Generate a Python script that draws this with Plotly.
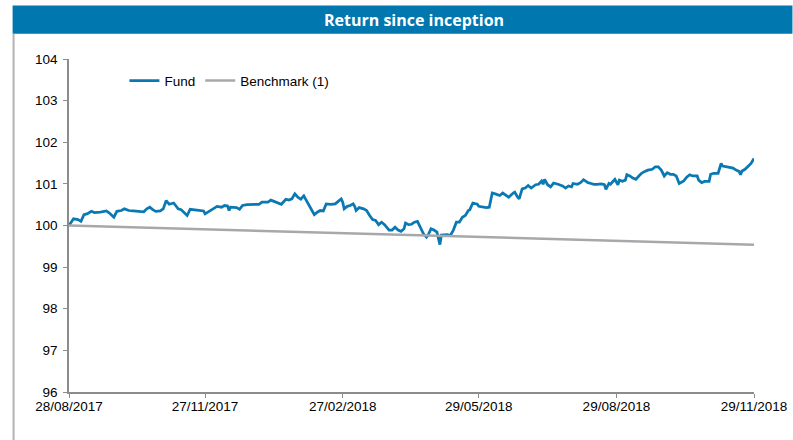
import pandas as pd
import plotly.graph_objects as go

START = "2017-08-28"

# Fund: days since inception and index level
fund_days = [0, 3, 6, 8, 10, 12, 15, 17, 21, 23, 25, 27, 30, 32, 35, 37, 40, 43, 46, 50,
             52, 54, 56, 58, 61, 63, 65, 67, 70, 73, 75, 77, 79, 81, 84, 87, 90, 91, 93,
             95, 97, 99, 102, 104, 106, 107, 108, 112, 114, 116, 119, 123, 125, 127, 129,
             133, 135, 138, 141, 142, 145, 147, 149, 151, 153, 155, 157, 161, 164, 166,
             168, 170, 172, 175, 178, 180, 182, 183, 184, 186, 188, 190, 191, 192, 194,
             197, 199, 201, 203, 205, 207, 209, 211, 214, 216, 218, 220, 222, 224, 225,
             227, 229, 231, 233, 235, 237, 239, 240, 242, 244, 246, 248, 249, 251, 253,
             255, 257, 259, 261, 263, 265, 267, 268, 270, 273, 274, 277, 279, 281, 283,
             285, 288, 290, 292, 294, 297, 298, 300, 301, 303, 305, 307, 309, 312, 314,
             316, 317, 318, 320, 322, 324, 327, 330, 332, 334, 336, 337, 340, 342, 344,
             347, 349, 351, 353, 356, 358, 359, 361, 362, 364, 365, 367, 368, 370, 372,
             373, 375, 377, 379, 381, 383, 385, 387, 390, 392, 394, 396, 398, 400, 402,
             404, 406, 408, 411, 413, 415, 417, 420, 421, 423, 425, 428, 429, 431, 434,
             436, 437, 440, 442, 444, 446, 448, 449, 450, 452, 454, 456, 458]
fund_values = [100.00, 100.16, 100.14, 100.10, 100.26, 100.28, 100.34, 100.31, 100.32, 100.33,
               100.35, 100.30, 100.20, 100.34, 100.36, 100.40, 100.36, 100.35, 100.34, 100.33,
               100.40, 100.44, 100.38, 100.34, 100.35, 100.40, 100.60, 100.51, 100.54, 100.40,
               100.38, 100.30, 100.24, 100.39, 100.38, 100.36, 100.35, 100.28, 100.32,
               100.36, 100.40, 100.46, 100.44, 100.48, 100.47, 100.36, 100.44, 100.43, 100.39,
               100.48, 100.50, 100.51, 100.52, 100.51, 100.56, 100.56, 100.61, 100.57, 100.54,
               100.51, 100.63, 100.61, 100.64, 100.76, 100.68, 100.63, 100.71, 100.44, 100.26,
               100.32, 100.36, 100.35, 100.52, 100.51, 100.52, 100.58, 100.64, 100.56, 100.40,
               100.46, 100.48, 100.52, 100.46, 100.36, 100.43, 100.40, 100.36, 100.24, 100.14,
               100.12, 100.02, 100.08, 100.02, 99.89, 99.89, 99.96, 99.89, 99.86, 99.92, 100.06,
               100.02, 100.03, 100.08, 100.10, 99.96, 99.80, 99.72, 99.76, 99.92, 99.89, 99.84,
               99.54, 99.77, 99.78, 99.78, 99.76, 99.89, 100.08, 100.08, 100.20, 100.24, 100.36,
               100.38, 100.54, 100.51, 100.46, 100.44, 100.43, 100.44, 100.78, 100.76, 100.72,
               100.78, 100.74, 100.68, 100.78, 100.80, 100.68, 100.64, 100.88, 100.90, 100.96,
               100.90, 100.98, 100.99, 101.07, 100.99, 101.11, 100.98, 100.93, 101.02, 100.99,
               100.95, 100.90, 100.95, 100.93, 101.01, 100.99, 101.03, 101.10, 101.03, 101.01,
               100.99, 100.99, 101.00, 100.98, 100.87, 101.01, 100.99, 101.07, 101.11, 100.98,
               101.09, 101.06, 101.09, 101.22, 101.19, 101.14, 101.11, 101.19, 101.26, 101.30,
               101.33, 101.35, 101.41, 101.41, 101.33, 101.19, 101.27, 101.23, 101.23, 101.19,
               101.01, 101.07, 101.16, 101.22, 101.19, 101.19, 101.09, 101.03, 101.06, 101.06,
               101.23, 101.25, 101.25, 101.49, 101.43, 101.41, 101.39, 101.38, 101.33, 101.30,
               101.22, 101.31, 101.35, 101.41, 101.49, 101.61]

# Benchmark (1), read at the tick dates
bench_dates = ["2017-08-28", "2017-11-27", "2018-02-27", "2018-05-29", "2018-08-29", "2018-11-29"]
bench_values = [100.00, 99.91, 99.82, 99.73, 99.63, 99.54]

tick_dates = ["2017-08-28", "2017-11-27", "2018-02-27", "2018-05-29", "2018-08-29", "2018-11-29"]
tick_labels = ["28/08/2017", "27/11/2017", "27/02/2018", "29/05/2018", "29/08/2018", "29/11/2018"]
y_ticks = [96, 97, 98, 99, 100, 101, 102, 103, 104]

TITLE = "Return since inception"
FUND_COLOR = "#0A79B3"
BENCH_COLOR = "#A6A8AB"
BAR_COLOR = "#0077AF"
AXIS_COLOR = "#8C8C8C"
FONT = "Liberation Sans, Arial, sans-serif"

fund_dates = pd.to_datetime(START) + pd.to_timedelta(fund_days, unit="D")

fig = go.Figure()
fig.add_trace(go.Scatter(x=fund_dates, y=fund_values, mode="lines", name="Fund",
                         line=dict(color=FUND_COLOR, width=2.75)))
fig.add_trace(go.Scatter(x=pd.to_datetime(bench_dates), y=bench_values, mode="lines",
                         name="Benchmark (1)", line=dict(color=BENCH_COLOR, width=2.5)))

# pixel geometry of the plot area
W, H = 793, 440
L, R, T, B = 68.5, 754.5, 59.3, 391.7
pw, ph = R - L, B - T


def px_x(p):
    return (p - L) / pw


def px_y(p):
    return (B - p) / ph


fig.update_layout(
    width=W, height=H,
    margin=dict(l=L, r=W - R, t=T, b=H - B, pad=0, autoexpand=False),
    paper_bgcolor="white", plot_bgcolor="white",
    font=dict(family=FONT, size=13.5, color="#000000"),
    showlegend=True,
    legend=dict(orientation="h", x=px_x(124), y=px_y(81), xanchor="left", yanchor="middle",
                bgcolor="rgba(0,0,0,0)", font=dict(size=13.5), itemwidth=30,
                tracegroupgap=0),
    xaxis=dict(range=[pd.to_datetime(tick_dates[0]), pd.to_datetime(tick_dates[-1])],
               tickvals=pd.to_datetime(tick_dates), ticktext=tick_labels,
               showgrid=False, zeroline=False, showline=True, linecolor=AXIS_COLOR,
               linewidth=1.5, ticks="outside", ticklen=4, tickcolor=AXIS_COLOR,
               tickwidth=1, tickfont=dict(size=13.5), ticklabelstandoff=-3,
               automargin=False),
    yaxis=dict(range=[96, 104], tickvals=y_ticks, showgrid=False, zeroline=False,
               showline=True, linecolor=AXIS_COLOR, linewidth=1.5, ticks="outside",
               ticklen=4, tickcolor=AXIS_COLOR, tickwidth=1, tickfont=dict(size=13.5),
               ticklabelstandoff=3, automargin=False),
    shapes=[
        dict(type="rect", xref="paper", yref="paper", x0=px_x(12), x1=px_x(793),
             y0=px_y(34), y1=px_y(6), fillcolor=BAR_COLOR, line=dict(width=0), layer="above"),
        dict(type="line", xref="paper", yref="paper", x0=px_x(13), x1=px_x(13),
             y0=px_y(34), y1=px_y(440), line=dict(color="#B4B4B4", width=2)),
    ],
    annotations=[
        dict(text="<b>" + TITLE + "</b>", xref="paper", yref="paper", x=px_x(414),
             y=px_y(20), xanchor="center", yanchor="middle", showarrow=False,
             font=dict(family="Open Sans, sans-serif", size=16, color="white")),
    ],
)

fig.write_html("out.html", config={"displayModeBar": False},
               post_script="document.body.style.margin='0';")
